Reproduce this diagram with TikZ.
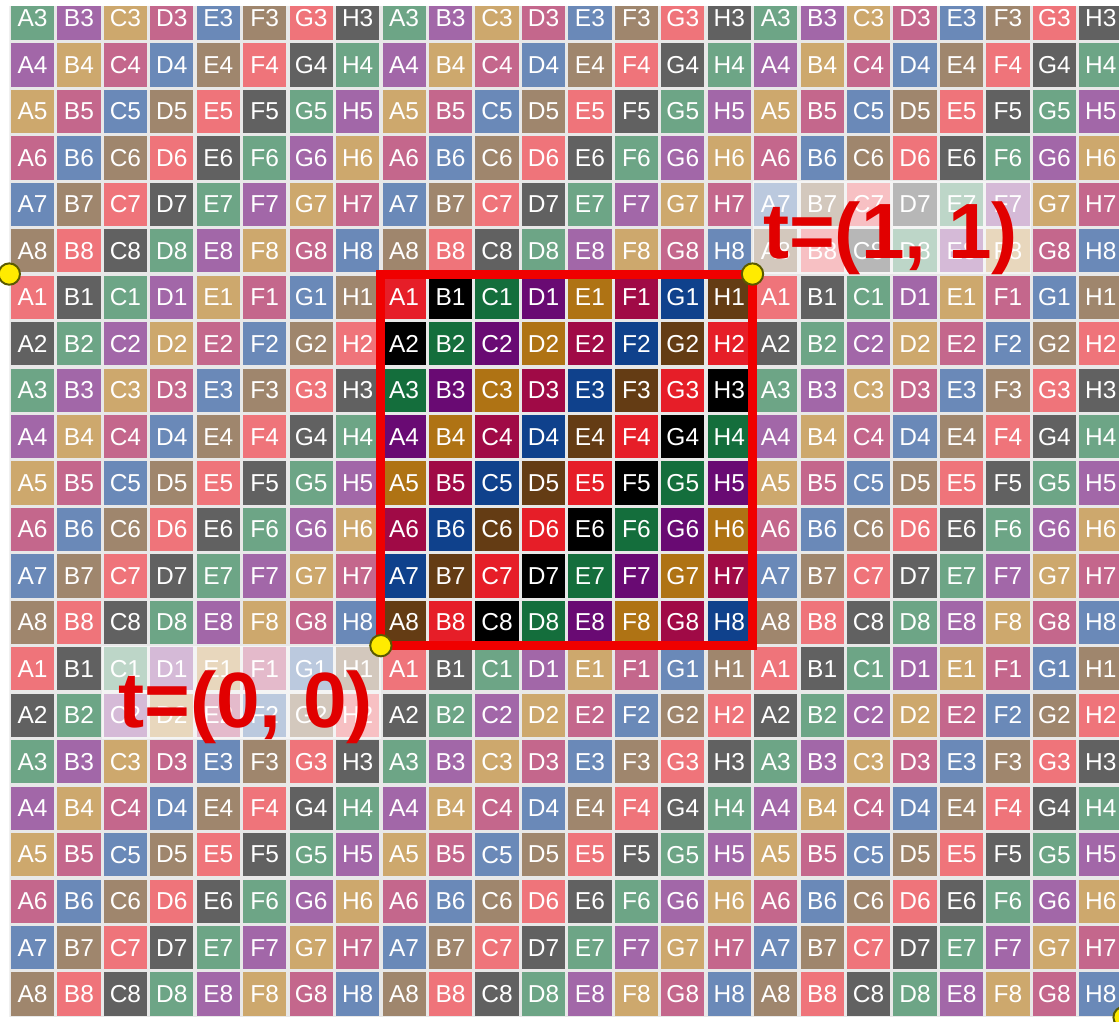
\documentclass[tikz,border=0pt]{standalone}
\usepackage{fontspec}
\setmainfont{Liberation Sans}
\usetikzlibrary{positioning}
% palette of the middle tile
\definecolor{tile0}{RGB}{230,30,40}
\definecolor{tile1}{RGB}{0,0,0}
\definecolor{tile2}{RGB}{20,110,60}
\definecolor{tile3}{RGB}{105,10,115}
\definecolor{tile4}{RGB}{175,115,20}
\definecolor{tile5}{RGB}{160,10,70}
\definecolor{tile6}{RGB}{15,65,140}
\definecolor{tile7}{RGB}{100,60,20}
% faded copies for the repeated tiles
\colorlet{fade0}{tile0!62!white}
\colorlet{fade1}{tile1!62!white}
\colorlet{fade2}{tile2!62!white}
\colorlet{fade3}{tile3!62!white}
\colorlet{fade4}{tile4!62!white}
\colorlet{fade5}{tile5!62!white}
\colorlet{fade6}{tile6!62!white}
\colorlet{fade7}{tile7!62!white}
\definecolor{framered}{RGB}{240,0,0}
\definecolor{labelred}{RGB}{225,0,0}
\definecolor{dotyellow}{RGB}{255,235,0}
\definecolor{dotrim}{RGB}{90,90,0}
\definecolor{gapgray}{RGB}{232,232,232}

\begin{document}
\begin{tikzpicture}[
  cell/.style={minimum width=0.93cm, minimum height=0.93cm, inner sep=0pt,
    text=white, font=\fontsize{15}{15}\selectfont},
  frame/.style={draw=framered, line width=5.5pt},
  corner/.style={circle, fill=dotyellow, draw=dotrim, line width=1.2pt,
    minimum size=0.46cm, inner sep=0pt},
  tlabel/.style={text=labelred, font=\fontsize{48}{48}\selectfont\bfseries,
    inner sep=0pt, anchor=base west},
  veil/.style={fill=white, fill opacity=0.55}
]
  \useasboundingbox (-8.2,-8.1) rectangle (15.89,13.9);
  \begin{scope}
    \clip (-8,-8) rectangle (16,13.75);
    \fill[gapgray] (-8,-8) rectangle (16,16);
    % 3x3 copies of the 8x8 tile, only the middle one at full colour
    \foreach \tx/\ty/\pal/\tn in {-1/1/fade/lt, 0/1/fade/mt, 1/1/fade/rt,
        -1/0/fade/lm, 0/0/tile/mm, 1/0/fade/rm,
        -1/-1/fade/lb, 0/-1/fade/mb, 1/-1/fade/rb}
      \foreach \c/\col in {0/A,1/B,2/C,3/D,4/E,5/F,6/G,7/H}
        \foreach \r in {0,...,7} {
          \pgfmathtruncatemacro\k{mod(\c+\r,8)}
          \pgfmathtruncatemacro\num{\r+1}
          \edef\cname{\pal\k}
          \node[cell, fill=\cname] (\tn-\col\num)
            at (8*\tx+\c+0.5, 8*\ty+7.5-\r) {\col\num};
        }
    % veils behind the two labels
    \fill[veil] (8,8) rectangle (14,10);
    \fill[veil] (-6,-2) rectangle (0,0);
  \end{scope}

  \draw[frame] (0,0) rectangle (8,8);

  \node[tlabel] (t11) at (8.22,8.34) {t=(1, 1)};
  \node[tlabel] (t00) at (-5.66,-1.76) {t=(0, 0)};

  % tile corners
  \node[corner] (p0) at (-8,8) {};
  \node[corner] (p1) at (0,0) {};
  \node[corner] (p2) at (8,8) {};
  \node[corner] (p3) at (16,-8) {};
\end{tikzpicture}
\end{document}
